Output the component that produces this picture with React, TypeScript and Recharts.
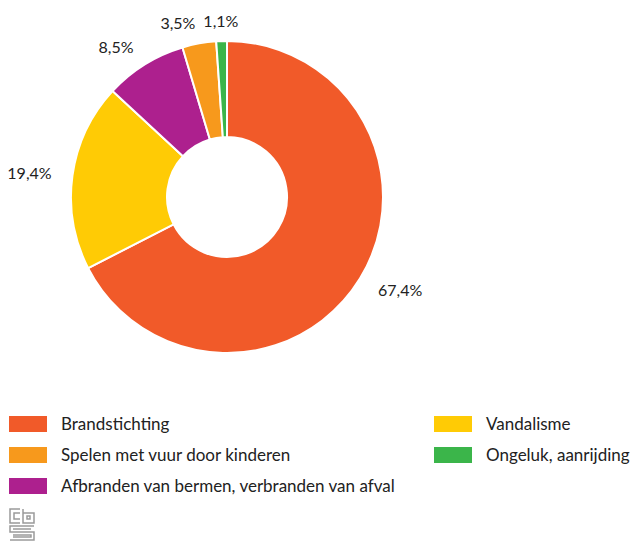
import { PieChart, Pie, Cell } from 'recharts'

const categories = [
  'Brandstichting',
  'Vandalisme',
  'Afbranden van bermen, verbranden van afval',
  'Spelen met vuur door kinderen',
  'Ongeluk, aanrijding',
]
const values = [67.4, 19.4, 8.5, 3.5, 1.1]
const colors = ['#f15a29', '#ffcb05', '#ad208e', '#f7991c', '#3bb54a']
// legend is laid out column by column
const legendOrder = [
  'Brandstichting',
  'Spelen met vuur door kinderen',
  'Afbranden van bermen, verbranden van afval',
  'Vandalisme',
  'Ongeluk, aanrijding',
]

const data = categories.map((name, i) => ({ name, value: values[i], color: colors[i] }))

const FONT = 'Lato, "Noto Sans", sans-serif'
const RAD = Math.PI / 180

const fmt = (v: number) => v.toFixed(1).replace('.', ',') + '%'

function renderLabel(props: any) {
  const { cx, cy, midAngle, outerRadius, value } = props
  const r = outerRadius + 21
  const c = Math.cos(-midAngle * RAD)
  const x = cx + r * c
  const y = cy + r * Math.sin(-midAngle * RAD)
  const anchor = Math.abs(c) < 0.1 ? 'middle' : c > 0 ? 'start' : 'end'
  return (
    <text x={x} y={y} textAnchor={anchor} dominantBaseline="central" fill="#222" fontSize={16} fontFamily={FONT}>
      {fmt(value)}
    </text>
  )
}

function LegendBox() {
  return (
    <div
      style={{
        display: 'grid',
        gridTemplateColumns: '425px 200px',
        gridTemplateRows: 'repeat(3, 31px)',
        gridAutoFlow: 'column',
        paddingLeft: 9,
        fontFamily: FONT,
        fontSize: 17,
        color: '#222',
      }}
    >
      {legendOrder.map(name => {
        const d = data.find(x => x.name === name)!
        return (
          <div key={name} style={{ display: 'flex', alignItems: 'center', height: 31 }}>
            <span style={{ width: 38, height: 16, background: d.color, display: 'inline-block', marginRight: 14 }} />
            <span style={{ whiteSpace: 'nowrap' }}>{name}</span>
          </div>
        )
      })}
    </div>
  )
}

function Logo() {
  return (
    <svg width={28} height={34} style={{ position: 'absolute', left: 8, top: 507 }} fill="none" stroke="#9a9a9a" strokeWidth={1.5}>
      <path d="M12 2 H2 V16 H12" />
      <path d="M12 6 H6 V12 H12" />
      <path d="M15 2 V16 H26 V6 H15" />
      <path d="M19 9 H22 V12 H19 Z" />
      <path d="M26 19 H2 V25 H26 V33 H2" />
      <path d="M23 22 H5" />
      <path d="M5 28 H23 V30 H5" />
    </svg>
  )
}

export default function App() {
  return (
    <div style={{ position: 'absolute', left: 0, top: 0, width: 632, height: 541, background: '#fff' }}>
      <PieChart width={632} height={400} margin={{ top: 0, right: 0, bottom: 0, left: 0 }}>
        <Pie
          data={data}
          dataKey="value"
          nameKey="name"
          cx={227}
          cy={197}
          innerRadius={60}
          outerRadius={156}
          startAngle={90}
          endAngle={-270}
          stroke="#fff"
          strokeWidth={2}
          label={renderLabel}
          labelLine={false}
          isAnimationActive={false}
        >
          {data.map(d => (
            <Cell key={d.name} fill={d.color} />
          ))}
        </Pie>
      </PieChart>
      <div style={{ position: 'absolute', left: 0, top: 408 }}>
        <LegendBox />
      </div>
      <Logo />
    </div>
  )
}
